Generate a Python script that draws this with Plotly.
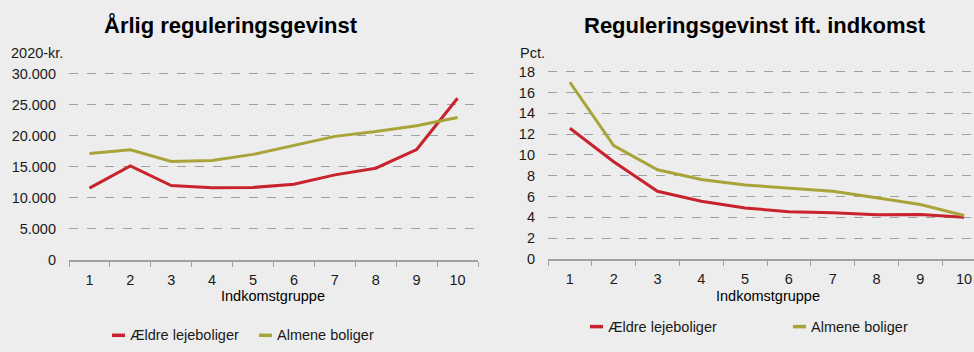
import plotly.graph_objects as go

groups = ["1", "2", "3", "4", "5", "6", "7", "8", "9", "10"]
series_names = ["Ældre lejeboliger", "Almene boliger"]
gain_aeldre = [11570, 15150, 11980, 11620, 11670, 12190, 13690, 14770, 17770, 26030]
gain_almene = [17150, 17720, 15860, 16010, 16990, 18490, 19890, 20660, 21590, 22930]
pct_aeldre = [12.56, 9.34, 6.50, 5.54, 4.89, 4.55, 4.45, 4.24, 4.27, 4.02]
pct_almene = [16.98, 10.89, 8.57, 7.64, 7.11, 6.84, 6.50, 5.88, 5.23, 4.18]
left_ticks = [0, 5000, 10000, 15000, 20000, 25000, 30000]
right_ticks = [0, 2, 4, 6, 8, 10, 12, 14, 16, 18]

RED = "#C8232C"
OLIVE = "#A9A43A"
BG = "#EDEDED"
FONT = "Arial, Liberation Sans, sans-serif"
W, H = 974, 352

fig = go.Figure()
fig.add_trace(go.Scatter(x=groups, y=gain_aeldre, mode="lines", line=dict(color=RED, width=3),
                         xaxis="x", yaxis="y", showlegend=False, name=series_names[0]))
fig.add_trace(go.Scatter(x=groups, y=gain_almene, mode="lines", line=dict(color=OLIVE, width=3),
                         xaxis="x", yaxis="y", showlegend=False, name=series_names[1]))
fig.add_trace(go.Scatter(x=groups, y=pct_aeldre, mode="lines", line=dict(color=RED, width=3),
                         xaxis="x2", yaxis="y2", showlegend=False, name=series_names[0]))
fig.add_trace(go.Scatter(x=groups, y=pct_almene, mode="lines", line=dict(color=OLIVE, width=3),
                         xaxis="x2", yaxis="y2", showlegend=False, name=series_names[1]))

def px(x):
    return x / W

def py(y):
    return 1 - y / H

xcommon = dict(type="category", showline=True, linecolor="#A0A0A0", linewidth=1.5,
               ticks="outside", tickson="boundaries", ticklen=5, tickcolor="#A0A0A0",
               showgrid=False, zeroline=False, fixedrange=True, ticklabelstandoff=6,
               tickfont=dict(family=FONT, size=14.5, color="#1a1a1a"))
ycommon = dict(showgrid=True, gridcolor="#A0A0A0", griddash="dash", gridwidth=1,
               zeroline=False, showline=False, ticks="", ticklabelstandoff=12,
               tickfont=dict(family=FONT, size=14.5, color="#1a1a1a"))

fig.update_layout(
    width=W, height=H, margin=dict(l=0, r=0, t=0, b=0),
    paper_bgcolor=BG, plot_bgcolor=BG, separators=",.",
    font=dict(family=FONT, color="#1a1a1a"),
    xaxis=dict(domain=[px(69), px(478)], anchor="y", range=[-0.5, 9.5], **xcommon),
    yaxis=dict(domain=[py(265), py(68)], anchor="x", range=[0, 30000 * 197 / 193], tickvals=left_ticks,
               tickformat=",d", **ycommon),
    xaxis2=dict(domain=[px(548), 1.0], anchor="y2", range=[-0.5, 9.5 - (986 - 974) / 43.8], **xcommon),
    yaxis2=dict(domain=[py(264), py(66)], anchor="x2", range=[0, 18 * 198 / 194], tickvals=right_ticks, **ycommon),
)

annots = [
    dict(text="<b>Årlig reguleringsgevinst</b>", x=px(231), y=py(22), size=22),
    dict(text="<b>Reguleringsgevinst ift. indkomst</b>", x=px(755), y=py(22), size=22),
    dict(text="Indkomstgruppe", x=px(273), y=py(302), size=14.5),
    dict(text="Indkomstgruppe", x=px(768), y=py(302), size=14.5),
]
for a in annots:
    fig.add_annotation(text=a["text"], x=a["x"], y=a["y"], xref="paper", yref="paper",
                       xanchor="center", yanchor="middle", showarrow=False,
                       font=dict(family=FONT, size=a["size"], color="#000000"))

for txt, x0 in [("2020-kr.", 9), ("Pct.", 518)]:
    fig.add_annotation(text=txt, x=px(x0), y=py(51), xref="paper", yref="paper",
                       xanchor="left", yanchor="middle", showarrow=False,
                       font=dict(family=FONT, size=14.5, color="#1a1a1a"))

# legends (line sample + label)
legend_items = [
    (series_names[0], RED, 112, 343),
    (series_names[1], OLIVE, 259, 343),
    (series_names[0], RED, 590, 334),
    (series_names[1], OLIVE, 793, 334),
]
for name, col, x0, yy in legend_items:
    fig.add_shape(type="line", xref="paper", yref="paper", x0=px(x0), x1=px(x0 + 13),
                  y0=py(yy), y1=py(yy), line=dict(color=col, width=3.5))
    fig.add_annotation(text=name, x=px(x0 + 16), y=py(yy), xref="paper", yref="paper",
                       xanchor="left", yanchor="middle", showarrow=False,
                       font=dict(family=FONT, size=14.5, color="#1a1a1a"))

fig.write_html("out.html")
